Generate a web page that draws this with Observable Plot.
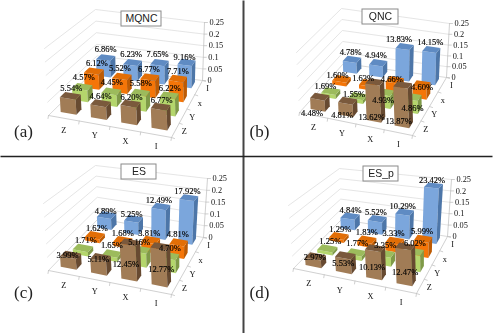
<!DOCTYPE html>
<html><head><meta charset="utf-8">
<script src="https://cdn.jsdelivr.net/npm/d3@7"></script>
<script src="https://cdn.jsdelivr.net/npm/@observablehq/plot@0.6"></script>
<style>html,body{margin:0;padding:0;background:#fff}svg{display:block;filter:blur(0.3px)}
.serif text{font-family:"Liberation Serif","Times New Roman",serif !important}
.sans text{font-family:"Liberation Sans",Arial,sans-serif !important}</style>
</head><body><div id="chart"></div>
<script>
const panelNames = ["MQNC","QNC","ES","ES_p"];
const panelTags = ["(a)","(b)","(c)","(d)"];
const columnLabels = ["Z","Y","X","I"];
const rowLabels = ["Z","Y","x","I"];
const valueTicks = [0,0.05,0.1,0.15,0.2,0.25];
// percent values: one list per panel and row (row order matches rowLabels)
const mqncZ=[5.54,4.64,6.20,6.77], mqncY=[4.57,4.45,5.58,6.22], mqncX=[6.12,5.52,6.77,7.71], mqncI=[6.86,6.23,7.65,9.16];
const qncZ=[4.48,4.81,13.62,13.87], qncY=[1.69,1.55,4.93,4.86], qncX=[1.60,1.63,4.66,4.60], qncI=[4.78,4.94,13.83,14.15];
const esZ=[3.99,5.11,12.45,12.77], esY=[1.71,1.65,5.16,4.70], esX=[1.62,1.68,3.81,4.81], esI=[4.89,5.25,12.49,17.92];
const espZ=[2.97,5.53,10.13,12.47], espY=[1.25,1.77,3.35,6.02], espX=[1.29,1.83,3.33,5.99], espI=[4.84,5.52,10.29,23.42];
const panelValues=[[mqncZ,mqncY,mqncX,mqncI],[qncZ,qncY,qncX,qncI],[esZ,esY,esX,esI],[espZ,espY,espX,espI]];

// view of each 3D box: floor corners FL FR BR BL, then the same corners at value 0.25
const views=[
 {f:[[48,115],[171,137],[202,80],[97,67]],t:[[44,48],[168,62],[204,22],[95,9]],box:[121,161,11,26],tag:[23,131]},
 {f:[[299,112],[412,135],[446,77],[343,63]],t:[[296,52],[409,60],[449,23],[341,8]],box:[362,398,9,24],tag:[259,131]},
 {f:[[48,270],[171,294],[203,237],[98,218]],t:[[43,203],[168,219],[207,178],[95,165]],box:[121,156,164,179],tag:[23,292]},
 {f:[[293,268],[416,293],[447,236],[341,219]],t:[[288,205],[413,218],[451,179],[339,168]],box:[363,398,166,181],tag:[259,292]}
];
// label nudges in pixels from the top of each bar: [panel][row][column]
const labelDx=[
 [[1,0,1,1],[1.5,.5,.5,.5],[3,-2,-1,0],[0,-1.5,-2,-2]],
 [[-7.7,-5.5,-3,-4],[-5.3,-4,-2,0],[-4,-5,-3,.5],[-1.3,-2.3,-5.7,-1]],
 [[-3,-2.3,-4,1],[3,0,-1.5,0],[2,0,-1.4,-1],[-1,-2,-2,-1.5]],
 [[-.7,-2,-3,0],[3,1,0,.5],[1.5,0,-1.3,-1],[.5,-1.3,-2,-1.5]]
];
const labelDy=[
 [[-8,-7,-6,-6],[-9,-9,-9,-7.5],[-8,-8.5,-7.5,-7],[-8,-8,-8,-5.5]],
 [[16.7,15,35.5,36.6],[-4.4,-2,7.5,11],[-4,-5,-.5,3],[-7,-7.6,-7,-7.6]],
 [[0,1.7,21.8,23.5],[-7.8,-8.4,-7,-8],[-7,-7,-7,-8],[-4.3,-5,-6,-6]],
 [[1,8,19.3,25.4],[-7.3,-9,-8,-8],[-7,-7.5,-7.7,-7.3],[-5.4,-6.4,-5.7,-4.8]]
];
const rowColors=[
 {front:"#a17c56",top:"#7a593c",side:"#674a31"},
 {front:"#b4d66c",top:"#9cbb5c",side:"#7f9a48"},
 {front:"#f47508",top:"#e26e06",side:"#bd5b04"},
 {front:"#7ba6dc",top:"#5f8bc3",side:"#4d76a8"}
];
const halfW=0.065, halfD=0.055, rowShift=0.03, vMax=0.25;
function project(view,u,v,val){
  const t=val/vMax;
  const mix=(c)=>{
    const bl=(A)=>{
      const fx=A[0][c]+(A[1][c]-A[0][c])*u, bx=A[3][c]+(A[2][c]-A[3][c])*u;
      return fx+(bx-fx)*v;
    };
    return bl(view.f)+(bl(view.t)-bl(view.f))*t;
  };
  return [mix(0),mix(1)];
}
const faces=[], labels=[], grid=[], ticks=[], texts=[];
let id=0;
const addLine=(arr,pts,extra)=>{const k=id++;pts.forEach(p=>arr.push({x:p[0],y:p[1],id:k,...extra}));};
views.forEach((view,p)=>{
  valueTicks.forEach(val=>{
    addLine(grid,[project(view,0,0,val),project(view,0,1,val),project(view,1,1,val)],{stroke:val===0?"#cfcfcf":"#dedede"});
    const a=project(view,1,1,val);
    addLine(ticks,[a,[a[0]+3,a[1]]],{});
    texts.push({x:a[0]+5,y:a[1],text:String(val),anchor:"start"});
  });
  addLine(ticks,[project(view,1,1,0),project(view,1,1,vMax)],{});
  addLine(ticks,[project(view,0,0,0),project(view,1,0,0),project(view,1,1,0)],{});
  for(let i=0;i<=4;i++){
    const a=project(view,i/4,0,0); addLine(ticks,[a,[a[0]-0.5,a[1]+3]],{});
    const b=project(view,1,i/4,0); addLine(ticks,[b,[b[0]+3,b[1]+1]],{});
  }
  columnLabels.forEach((c,i)=>{const a=project(view,(i+.5)/4,0,0);texts.push({x:a[0],y:a[1]+12,text:c,anchor:"middle"});});
  rowLabels.forEach((r,i)=>{const a=project(view,1,(i+.5)/4,0);texts.push({x:a[0]+9,y:a[1]+1,text:r,anchor:"middle"});});
  for(let r=3;r>=0;r--){
    const vals=panelValues[p][r], col=rowColors[r];
    vals.forEach((pct,c)=>{
      const val=pct/100,u=(c+.5)/4,v=(r+.5)/4+rowShift;
      const u0=u-halfW,u1=u+halfW,v0=v-halfD,v1=v+halfD;
      addLine(faces,[[u0,v0,0],[u1,v0,0],[u1,v0,val],[u0,v0,val]].map(q=>project(view,...q)),{fill:col.front});
      addLine(faces,[[u1,v0,0],[u1,v1,0],[u1,v1,val],[u1,v0,val]].map(q=>project(view,...q)),{fill:col.side});
      addLine(faces,[[u0,v0,val],[u1,v0,val],[u1,v1,val],[u0,v1,val]].map(q=>project(view,...q)),{fill:col.top});
      const top=project(view,u,v,val);
      labels.push({x:top[0]+labelDx[p][r][c],y:top[1]+labelDy[p][r][c],text:pct.toFixed(2)+"%"});
    });
  }
});
const seps=[{x1:243,y1:0,x2:243,y2:333,w:2,s:"#444"},{x1:0,y1:156,x2:492,y2:156,w:1.5,s:"#222"}];
const chart=Plot.plot({
  width:498,height:333,margin:0,
  x:{domain:[0,498],range:[0,498],axis:null},
  y:{domain:[0,333],range:[0,333],axis:null},
  marks:[
    Plot.line(grid,{x:"x",y:"y",z:"id",stroke:"stroke",strokeWidth:0.8,curve:"linear"}),
    Plot.line(ticks,{x:"x",y:"y",z:"id",stroke:"#c4c4c4",strokeWidth:0.8}),
    Plot.line(faces,{x:"x",y:"y",z:"id",fill:"fill",stroke:"none"}),
    Plot.rect(views,{x1:d=>d.box[0],x2:d=>d.box[1],y1:d=>d.box[2],y2:d=>d.box[3],fill:"white",stroke:"#8a8a8a",strokeWidth:1}),
    Plot.text(views,{x:d=>(d.box[0]+d.box[1])/2,y:d=>(d.box[2]+d.box[3])/2,text:(d,i)=>panelNames[i],fontSize:10.5,className:"sans",fill:"#222"}),
    Plot.text(texts.filter(d=>d.anchor==="start"),{x:"x",y:"y",text:"text",textAnchor:"start",fontSize:8.3,className:"serif",fill:"#111"}),
    Plot.text(texts.filter(d=>d.anchor==="middle"),{x:"x",y:"y",text:"text",fontSize:8.3,className:"serif",fill:"#111"}),
    Plot.text(labels,{x:"x",y:"y",text:"text",fontSize:8.5,className:"serif",fill:"#000",stroke:"#000",strokeWidth:0.15}),
    Plot.text(views,{x:d=>d.tag[0],y:d=>d.tag[1],text:(d,i)=>panelTags[i],fontSize:17,className:"serif",fill:"#222"}),
    Plot.link(seps,{x1:"x1",y1:"y1",x2:"x2",y2:"y2",stroke:"s",strokeWidth:"w"})
  ]
});
document.getElementById("chart").append(chart);
</script></body></html>
